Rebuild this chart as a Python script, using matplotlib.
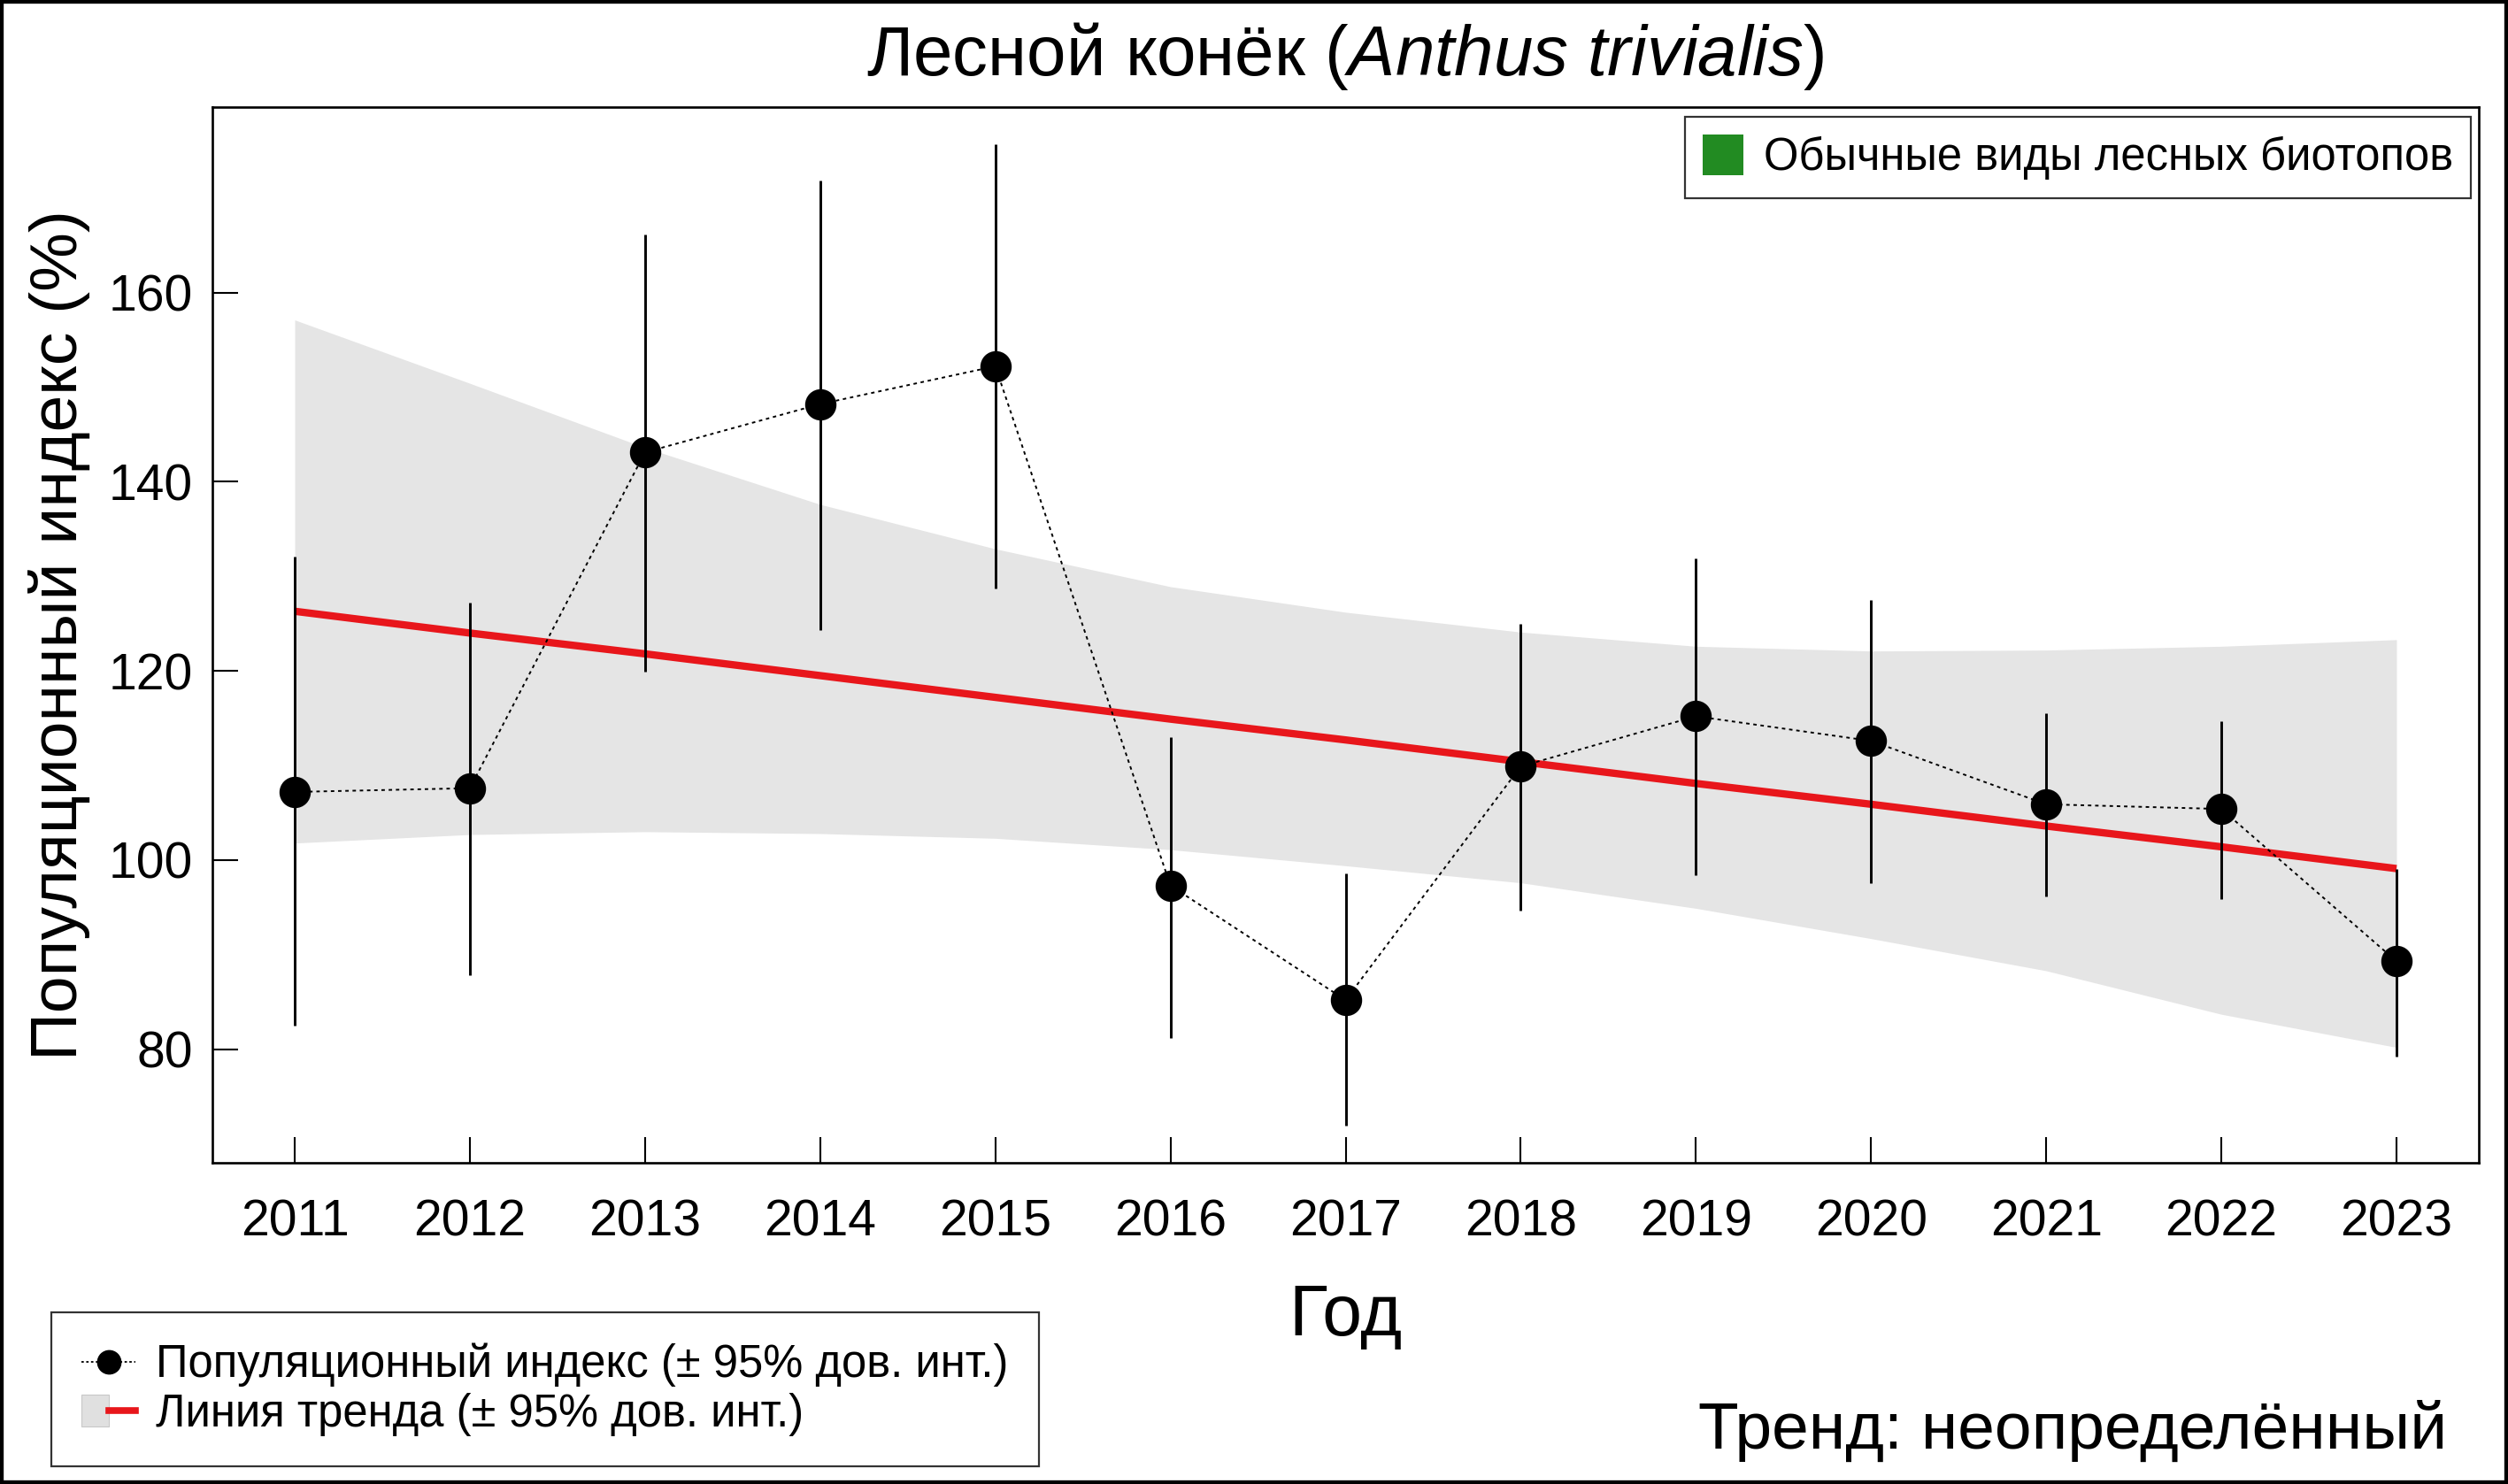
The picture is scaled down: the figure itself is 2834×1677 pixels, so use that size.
import matplotlib
matplotlib.use("Agg")
import matplotlib.pyplot as plt
from matplotlib.lines import Line2D
from matplotlib.patches import Patch, Rectangle
from matplotlib.legend_handler import HandlerTuple

# ---------------- data ----------------
years = [2011, 2012, 2013, 2014, 2015, 2016, 2017, 2018, 2019, 2020, 2021, 2022, 2023]
index_vals = [107.2, 107.6, 143.1, 148.2, 152.2, 97.3, 85.2, 109.9, 115.2, 112.6, 105.9, 105.4, 89.3]
ci_low = [82.5, 87.8, 119.9, 124.3, 128.7, 81.2, 71.9, 94.7, 98.4, 97.6, 96.2, 95.9, 79.2]
ci_high = [132.1, 127.2, 166.1, 171.8, 175.7, 113.0, 98.6, 125.0, 131.9, 127.5, 115.5, 114.7, 99.1]
trend_vals = [126.3, 124.0, 121.8, 119.5, 117.2, 114.9, 112.7, 110.4, 108.1, 105.9, 103.6, 101.4, 99.1]
band_upper = [157.1, 150.4, 143.6, 137.6, 132.9, 128.9, 126.2, 124.1, 122.6, 122.1, 122.2, 122.6, 123.3]
band_lower = [101.8, 102.7, 103.0, 102.8, 102.3, 101.1, 99.4, 97.6, 94.9, 91.7, 88.3, 83.7, 80.2]
yticks = [80, 100, 120, 140, 160]

title_plain = "Лесной конёк ("
title_italic = "Anthus\\ trivialis"
ylabel = "Популяционный индекс (%)"
xlabel = "Год"
legend_group = "Обычные виды лесных биотопов"
legend_index = "Популяционный индекс (± 95% дов. инт.)"
legend_trend = "Линия тренда (± 95% дов. инт.)"
trend_text = "Тренд: неопределённый"

# ---------------- style ----------------
plt.rcParams['font.family'] = ['Liberation Sans', 'DejaVu Sans']
plt.rcParams['mathtext.fontset'] = 'custom'
plt.rcParams['mathtext.it'] = 'Liberation Sans:italic'
plt.rcParams['mathtext.rm'] = 'Liberation Sans'

W, H, DPI = 2834, 1677, 100
fig = plt.figure(figsize=(W / DPI, H / DPI), dpi=DPI)
fig.patch.set_facecolor('white')

L, R, T, B = 240, 2801, 121, 1314
ax = fig.add_axes([L / W, 1 - B / H, (R - L) / W, (B - T) / H])

ax.fill_between(years, band_lower, band_upper, color='#E5E5E5', lw=0, zorder=1)
ax.plot(years, trend_vals, color='#E8161B', lw=6.0, zorder=2, solid_capstyle='butt')
ax.vlines(years, ci_low, ci_high, color='black', lw=2.1, zorder=3)
ax.plot(years, index_vals, color='black', lw=1.4, ls=(0, (2, 2.2)), zorder=4)
ax.plot(years, index_vals, 'o', color='black', ms=24.5, zorder=5)

ax.set_xlim(2010.53, 2023.47)
ax.set_ylim(68.0, 179.6)
ax.set_xticks(years)
ax.set_xticklabels([str(y) for y in years])
ax.set_yticks(yticks)
ax.tick_params(axis='both', direction='in', length=21, width=1.5, labelsize=41)
ax.tick_params(axis='x', pad=29)
ax.tick_params(axis='y', pad=16)
for s in ax.spines.values():
    s.set_linewidth(1.9)

# labels
fig.text(1520 / W, 1 - 85 / H, title_plain + "$\\mathit{" + title_italic + "}$)",
         ha='center', va='baseline', fontsize=57.5)
fig.text(67 / W, 1 - 718 / H, ylabel, rotation=90, ha='center', va='center', fontsize=54)
fig.text(1520 / W, 1 - 1509 / H, xlabel, ha='center', va='baseline', fontsize=58)
fig.text(2765 / W, 1 - 1637 / H, trend_text, ha='right', va='baseline', fontsize=54)

# top-right legend
h_grp = Patch(facecolor='#228B22', edgecolor='none')
leg1 = fig.legend([h_grp], [legend_group], loc='upper right',
                  bbox_to_anchor=(2792 / W, 1 - 132 / H), borderaxespad=0,
                  fontsize=36.5, frameon=True, fancybox=False, handlelength=0.9,
                  handleheight=1.0, handletextpad=0.45, borderpad=0.4)
leg1.get_frame().set_edgecolor('black')
leg1.get_frame().set_linewidth(1.6)

# bottom-left legend
h_idx = Line2D([], [], color='black', ls=(0, (1.5, 1.5)), lw=1.3, marker='o', ms=19)
h_band = Patch(facecolor='#E0E0E0', edgecolor='#C8C8C8', lw=0.8)
h_line = Line2D([], [], color='#E8161B', lw=5.5)
leg2 = fig.legend([h_idx, (h_band, h_line)], [legend_index, legend_trend],
                  handler_map={tuple: HandlerTuple(ndivide=None, pad=0)},
                  loc='lower left', bbox_to_anchor=(58 / W, 1 - 1657 / H), borderaxespad=0,
                  fontsize=36.5, frameon=True, fancybox=False, handlelength=1.2,
                  handletextpad=0.45, borderpad=0.68, labelspacing=0.12)
leg2.get_frame().set_edgecolor('black')
leg2.get_frame().set_linewidth(1.6)

# outer frame
fig.patches.append(Rectangle((0, 0), 1, 1, transform=fig.transFigure, fill=False,
                             edgecolor='black', lw=6))

fig.savefig('out.png', dpi=DPI)
